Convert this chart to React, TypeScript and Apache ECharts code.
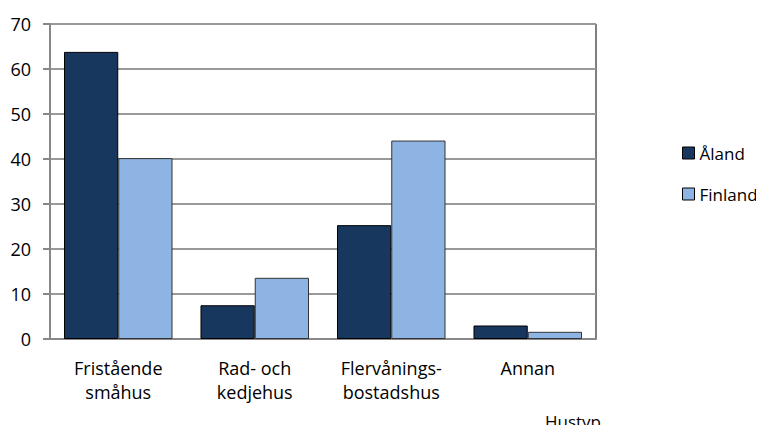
import React, { useEffect, useRef } from "react";
import * as echarts from "echarts";

const categories = ["Fristående\nsmåhus", "Rad- och\nkedjehus", "Flervånings-\nbostadshus", "Annan"];
const aland = [63.8, 7.5, 25.3, 3.0];
const finland = [40.2, 13.6, 44.1, 1.6];
const yTicks = [0, 10, 20, 30, 40, 50, 60, 70];

const FONT = "'Open Sans', 'Noto Sans', sans-serif";

export default function App() {
  const ref = useRef<HTMLDivElement>(null);
  useEffect(() => {
    if (!ref.current) return;
    const chart = echarts.init(ref.current, undefined, { renderer: "svg" });
    chart.setOption({
      animation: false,
      backgroundColor: "#ffffff",
      textStyle: { fontFamily: FONT },
      grid: {
        left: 50,
        right: 168,
        top: 24,
        bottom: 94,
        show: true,
        borderColor: "#000",
        borderWidth: 1,
        backgroundColor: "transparent",
      },
      legend: {
        orient: "vertical",
        left: 682,
        top: 144,
        padding: 0,
        itemWidth: 12,
        itemHeight: 12,
        itemGap: 23,
        itemStyle: { borderColor: "#000", borderWidth: 1 },
        icon: "rect",
        textStyle: { fontSize: 17, lineHeight: 18, color: "#000", fontFamily: FONT },
        data: ["Åland", "Finland"],
      },
      xAxis: {
        type: "category",
        data: categories,
        axisLine: { lineStyle: { color: "#888", width: 2 } },
        axisTick: { show: false },
        axisLabel: { color: "#000", fontSize: 18, lineHeight: 24, margin: 17, fontFamily: FONT, interval: 0 },
      },
      yAxis: {
        type: "value",
        min: yTicks[0],
        max: yTicks[yTicks.length - 1],
        interval: 10,
        axisLine: { show: true, lineStyle: { color: "#888", width: 2 } },
        axisTick: { show: true, length: 7, lineStyle: { color: "#888", width: 2 } },
        axisLabel: { color: "#000", fontSize: 18, margin: 19, fontFamily: FONT },
        splitLine: { lineStyle: { color: "#999", width: 2 } },
      },
      series: [
        {
          name: "Åland",
          type: "bar",
          data: aland,
          barGap: "0%",
          barCategoryGap: "20.5%",
          itemStyle: { color: "#17375E", borderColor: "#000", borderWidth: 1 },
        },
        {
          name: "Finland",
          type: "bar",
          data: finland,
          itemStyle: { color: "#8EB4E3", borderColor: "#333", borderWidth: 1 },
        },
      ],
      graphic: [
        {
          type: "text",
          x: 573,
          y: 421,
          style: {
            text: "Hustyp",
            fontSize: 17,
            fill: "#000",
            fontFamily: FONT,
            align: "center",
            verticalAlign: "middle",
          },
        },
      ],
    });
    return () => chart.dispose();
  }, []);
  return <div ref={ref} style={{ width: 764, height: 433, margin: -8 }} />;
}
